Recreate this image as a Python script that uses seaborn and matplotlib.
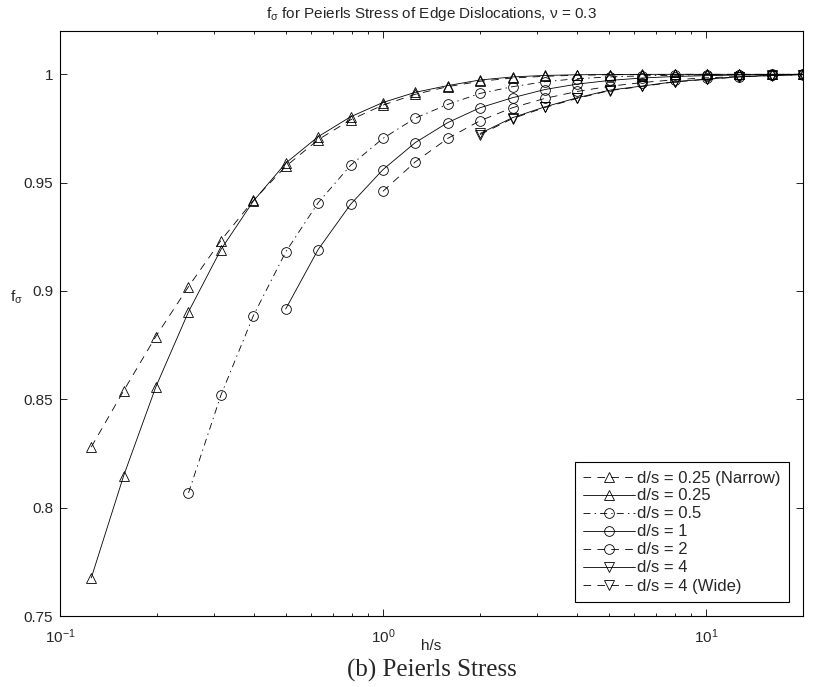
"""
plot.py

f_sigma for the Peierls stress of edge dislocations, plotted against h/s.
"""

import matplotlib
matplotlib.use("Agg")

import pandas as pd
import matplotlib.pyplot as plt
import seaborn as sns

from matplotlib.ticker import FuncFormatter, FixedLocator

############################################################
# Data
############################################################

H_OVER_S = [0.125, 0.1575, 0.198, 0.25, 0.315, 0.397, 0.5, 0.63, 0.794,
            1.0, 1.26, 1.587, 2.0, 2.52, 3.175, 4.0, 5.04, 6.35, 8.0,
            10.08, 12.7, 16.0, 20.0]

# every series runs to the last h/s value, shorter ones start later
F_NARROW = [0.828, 0.854, 0.879, 0.902, 0.9233, 0.9418, 0.9575, 0.9698,
            0.9790, 0.9858, 0.9908, 0.9943, 0.9968, 0.9983, 0.9991, 0.9996,
            0.9998, 0.9999, 1.0, 1.0, 1.0, 1.0, 1.0]

F_025 = [0.7676, 0.8148, 0.8557, 0.8904, 0.9191, 0.9415, 0.9590, 0.9712,
         0.9804, 0.9870, 0.9917, 0.9948, 0.9974, 0.9988, 0.9995, 0.9998,
         0.9999, 1.0, 1.0, 1.0, 1.0, 1.0, 1.0]

F_05 = [0.8068, 0.8519, 0.8886, 0.9180, 0.9407, 0.9580, 0.9704, 0.9798,
        0.9861, 0.9912, 0.9943, 0.9966, 0.9980, 0.9988, 0.9993, 0.9996,
        0.9998, 0.9999, 1.0, 1.0]

F_1 = [0.8917, 0.9191, 0.9400, 0.9560, 0.9685, 0.9777, 0.9846, 0.9892,
       0.9930, 0.9955, 0.9972, 0.9983, 0.9990, 0.9994, 0.9997, 0.9999, 1.0]

F_2 = [0.9460, 0.9596, 0.9704, 0.9786, 0.9846, 0.9889, 0.9921, 0.9945,
       0.9962, 0.9975, 0.9984, 0.9990, 0.9995, 0.9998]

F_4 = [0.9727, 0.9800, 0.9850, 0.9892, 0.9927, 0.9946, 0.9966, 0.9978,
       0.9989, 0.9995, 0.9999]

F_WIDE = [0.9722, 0.9796, 0.9847, 0.9889, 0.9925, 0.9944, 0.9965, 0.9977,
          0.9988, 0.9994, 0.9999]

LABELS = ["d/s = 0.25 (Narrow)", "d/s = 0.25", "d/s = 0.5", "d/s = 1",
          "d/s = 2", "d/s = 4", "d/s = 4 (Wide)"]

Y_TICKS = [0.75, 0.8, 0.85, 0.9, 0.95, 1.0]

############################################################
# Style
############################################################

DASHED = (0, (5.5, 4.5))
DASHDOT = (0, (5, 3, 1, 3))
SOLID = "-"

STYLES = [
    ("^", DASHED),
    ("^", SOLID),
    ("o", DASHDOT),
    ("o", SOLID),
    ("o", DASHED),
    ("v", SOLID),
    ("v", DASHED),
]

sns.set_style("ticks")

plt.rcParams["font.family"] = ["Liberation Sans", "DejaVu Sans"]
plt.rcParams["mathtext.fontset"] = "custom"
plt.rcParams["mathtext.rm"] = "Liberation Sans"
plt.rcParams["mathtext.it"] = "Liberation Sans:italic"
plt.rcParams["mathtext.default"] = "regular"
plt.rcParams["lines.scale_dashes"] = False


############################################################
# Plot
############################################################

def make_plot():

    fig = plt.figure(figsize=(8.13, 6.87), dpi=100)

    ax = fig.add_axes([60 / 813, 71 / 687, 743 / 813, 585 / 687])

    series = [F_NARROW, F_025, F_05, F_1, F_2, F_4, F_WIDE]

    for label, values, (marker, ls) in zip(LABELS, series, STYLES):

        df = pd.DataFrame({
            "h/s": H_OVER_S[len(H_OVER_S) - len(values):],
            "f": values,
        })

        sns.lineplot(
            data=df,
            x="h/s",
            y="f",
            ax=ax,
            color="k",
            linewidth=0.6,
            linestyle=ls,
            marker=marker,
            markersize=7,
            markerfacecolor="none",
            markeredgecolor="k",
            markeredgewidth=0.6,
            errorbar=None,
            label=label,
        )

    ########################################################

    ax.set_xscale("log")
    ax.set_xlim(0.1, 20)
    ax.set_ylim(0.75, 1.02)

    ax.yaxis.set_major_locator(FixedLocator(Y_TICKS))
    ax.yaxis.set_major_formatter(FuncFormatter(lambda v, p: f"{v:g}"))

    ax.tick_params(which="both", direction="in", top=True, right=True,
                   labelsize=11, color="k", width=0.6)
    ax.tick_params(which="major", length=5, pad=5)
    ax.tick_params(which="minor", length=2.5)
    ax.tick_params(axis="x", which="major", pad=8)

    for spine in ax.spines.values():
        spine.set_visible(True)
        spine.set_linewidth(0.8)
        spine.set_color("k")

    ########################################################

    ax.set_xlabel("h/s", fontsize=11)
    ax.xaxis.set_label_coords(0.5, -30 / 585)
    ax.xaxis.label.set_va("center")

    ax.set_ylabel("$f_\\sigma$", fontsize=11, rotation=0)
    ax.yaxis.set_label_coords(-44 / 743, 0.545)
    ax.yaxis.label.set_va("center")
    ax.yaxis.label.set_ha("center")

    ax.text(
        0.5, 1 + 17 / 585,
        "$f_\\sigma$ for Peierls Stress of Edge Dislocations, \u03bd = 0.3",
        transform=ax.transAxes, ha="center", va="center", fontsize=11,
    )

    fig.text(
        431.5 / 813, 1 - 670 / 687, "(b) Peierls Stress",
        family="Liberation Serif", fontsize=18, ha="center", va="center",
    )

    ########################################################

    leg = ax.legend(
        loc="lower right",
        fontsize=12,
        frameon=True,
        fancybox=False,
        edgecolor="k",
        framealpha=1,
        handlelength=3.1,
        handletextpad=0.15,
        labelspacing=0.18,
        borderpad=0.5,
        borderaxespad=0.85,
    )
    leg.get_frame().set_linewidth(0.8)

    fig.savefig("out.png", dpi=100, facecolor="white")

    plt.close(fig)


############################################################

if __name__ == "__main__":

    make_plot()
